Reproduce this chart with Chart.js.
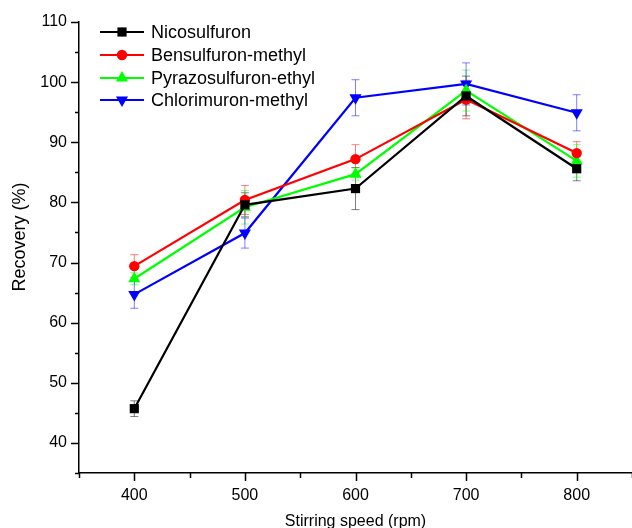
<!DOCTYPE html>
<html>
<head>
<meta charset="utf-8">
<script src="https://cdn.jsdelivr.net/npm/chart.js@4/dist/chart.umd.min.js"></script>
<style>
html,body{margin:0;padding:0;background:#fff;}
#wrap{width:632px;height:528px;position:relative;}
</style>
</head>
<body>
<div id="wrap"><canvas id="c" width="632" height="528"></canvas></div>
<script>
const speeds = [400, 500, 600, 700, 800];
const seriesNames = ['Nicosulfuron', 'Bensulfuron-methyl', 'Pyrazosulfuron-ethyl', 'Chlorimuron-methyl'];
const nicosulfuron = [45.7, 79.6, 82.3, 97.7, 85.6];
const nicosulfuronErr = [1.3, 2.0, 3.5, 3.3, 2.0];
const bensulfuron = [69.4, 80.4, 87.2, 97.1, 88.2];
const bensulfuronErr = [1.9, 2.4, 2.4, 3.2, 1.9];
const pyrazosulfuron = [67.3, 79.2, 84.7, 98.6, 86.9];
const pyrazosulfuronErr = [1.0, 2.8, 1.0, 3.4, 2.7];
const chlorimuron = [64.7, 74.9, 97.4, 99.7, 94.9];
const chlorimuronErr = [2.3, 2.5, 3.0, 3.5, 3.0];
const yTickValues = [40, 50, 60, 70, 80, 90, 100, 110];
const xTickValues = [400, 500, 600, 700, 800];

const FONT = "'Liberation Sans', Arial, sans-serif";

function mk(label, vals, errs, color, style, rot, r) {
  return {
    label: label,
    data: speeds.map((s, i) => ({x: s, y: vals[i]})),
    errors: errs,
    borderColor: color,
    backgroundColor: color,
    borderWidth: 2.2,
    pointStyle: style,
    pointRotation: rot,
    pointRadius: r,
    pointHoverRadius: r,
    pointBorderWidth: 0,
    tension: 0
  };
}

const datasets = [
  mk(seriesNames[0], nicosulfuron, nicosulfuronErr, '#000000', 'rect', 0, 6.5),
  mk(seriesNames[1], bensulfuron, bensulfuronErr, '#ff0000', 'circle', 0, 5.2),
  mk(seriesNames[2], pyrazosulfuron, pyrazosulfuronErr, '#00ff00', 'triangle', 0, 7),
  mk(seriesNames[3], chlorimuron, chlorimuronErr, '#0000ff', 'triangle', 180, 7)
];

function alpha(hex, a) {
  const r = parseInt(hex.substr(1,2),16), g = parseInt(hex.substr(3,2),16), b = parseInt(hex.substr(5,2),16);
  return `rgba(${r},${g},${b},${a})`;
}

const errorBars = {
  id: 'errorBars',
  beforeDatasetsDraw(chart) {
    const ctx = chart.ctx, ys = chart.scales.y;
    ctx.save();
    chart.data.datasets.forEach((ds, di) => {
      const meta = chart.getDatasetMeta(di);
      ctx.strokeStyle = alpha(ds.borderColor, 0.5);
      ctx.lineWidth = 1;
      meta.data.forEach((pt, i) => {
        const v = ds.data[i].y, e = ds.errors[i];
        const yt = ys.getPixelForValue(v + e), yb = ys.getPixelForValue(v - e);
        const x = pt.x;
        ctx.beginPath();
        ctx.moveTo(x, yt); ctx.lineTo(x, yb);
        ctx.moveTo(x - 4, yt); ctx.lineTo(x + 4, yt);
        ctx.moveTo(x - 4, yb); ctx.lineTo(x + 4, yb);
        ctx.stroke();
      });
    });
    ctx.restore();
  }
};

const axisDecor = {
  id: 'axisDecor',
  afterDraw(chart) {
    const ctx = chart.ctx, xs = chart.scales.x, ys = chart.scales.y;
    const ca = chart.chartArea;
    ctx.save();
    ctx.strokeStyle = '#000';
    ctx.lineWidth = 1.5;
    ctx.beginPath();
    for (let v = ys.min; v <= ys.max + 0.001; v += 5) {
      const y = Math.round(ys.getPixelForValue(v)) + 0.5;
      const len = (v % 10 === 0) ? 8 : 4;
      ctx.moveTo(ca.left, y); ctx.lineTo(ca.left - len, y);
    }
    for (let v = xs.min; v <= xs.max + 0.001; v += 50) {
      const x = Math.round(xs.getPixelForValue(v)) + 0.5;
      const len = (v % 100 === 0) ? 8 : 5;
      ctx.moveTo(x, ca.bottom); ctx.lineTo(x, ca.bottom + len);
    }
    ctx.stroke();
    // y title
    ctx.fillStyle = '#000';
    ctx.font = '18px ' + FONT;
    ctx.textAlign = 'center';
    ctx.textBaseline = 'middle';
    ctx.translate(20, 237);
    ctx.rotate(-Math.PI / 2);
    ctx.fillText('Recovery (%)', 0, 0);
    ctx.restore();

    // legend
    ctx.save();
    const rows = [32, 55, 78, 100];
    chart.data.datasets.forEach((ds, i) => {
      const y = rows[i];
      ctx.strokeStyle = ds.borderColor;
      ctx.lineWidth = 2.2;
      ctx.beginPath();
      ctx.moveTo(100, y); ctx.lineTo(144, y);
      ctx.stroke();
      ctx.fillStyle = ds.backgroundColor;
      Chart.helpers.drawPoint(ctx, {pointStyle: ds.pointStyle, rotation: ds.pointRotation, radius: ds.pointRadius, borderWidth: 0}, 122, y);
      ctx.fillStyle = '#000';
      ctx.font = '18px ' + FONT;
      ctx.textAlign = 'left';
      ctx.textBaseline = 'middle';
      ctx.fillText(ds.label, 151, y + 1);
    });
    ctx.restore();
  }
};

new Chart(document.getElementById('c'), {
  type: 'line',
  data: { datasets: datasets },
  options: {
    responsive: false,
    animation: false,
    devicePixelRatio: 1,
    layout: { autoPadding: false, padding: { top: 22, right: 0, left: 0, bottom: 0 } },
    plugins: { legend: { display: false }, tooltip: { enabled: false } },
    scales: {
      x: {
        type: 'linear',
        min: 350, max: 850,
        afterFit(s) { s.height = 55; },
        afterBuildTicks(s) { s.ticks = xTickValues.map(v => ({value: v})); },
        grid: { display: false, drawTicks: false },
        border: { display: true, color: '#000', width: 1.5 },
        ticks: { color: '#000', font: { family: FONT, size: 16 }, padding: 13, maxRotation: 0 },
        title: { display: true, text: 'Stirring speed (rpm)', color: '#000', font: { family: FONT, size: 16 }, padding: { top: 0, bottom: -3 } }
      },
      y: {
        min: 35, max: 110,
        afterFit(s) { s.width = 79; },
        afterBuildTicks(s) { s.ticks = yTickValues.map(v => ({value: v})); },
        grid: { display: false, drawTicks: false },
        border: { display: true, color: '#000', width: 1.5 },
        ticks: { color: '#000', font: { family: FONT, size: 16 }, padding: 12 }
      }
    }
  },
  plugins: [errorBars, axisDecor]
});
</script>
</body>
</html>
